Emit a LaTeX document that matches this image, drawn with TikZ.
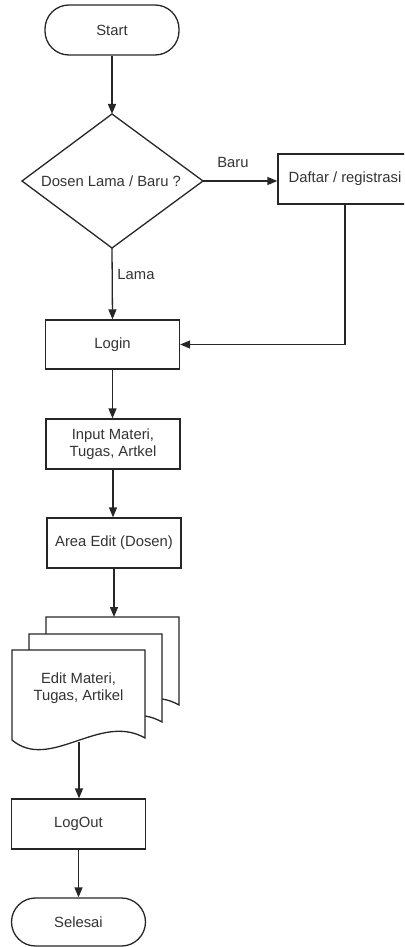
\documentclass[tikz,border=0pt]{standalone}
\usepackage{fontspec}
\setmainfont{Liberation Sans}
\usetikzlibrary{arrows.meta}
\definecolor{ln}{HTML}{262626}
\definecolor{txt}{HTML}{333333}
\begin{document}
\begin{tikzpicture}[x=1pt,y=-1pt,
  every node/.style={font=\fontsize{14.8}{17.5}\selectfont, text=txt},
  box/.style={draw=ln, line width=1.3pt, minimum width=134pt, minimum height=50pt,
              inner sep=0pt, align=center},
  term/.style={box, rounded corners=24pt},
  flow/.style={draw=ln, line width=1.3pt, -{Triangle[length=10pt,width=8pt]}},
  sheet/.pic={
    \filldraw[draw=ln, fill=white, line width=1.3pt, line join=miter]
      (0,0) -- (133,0) -- (133,88) .. controls (88,62) and (38,122) .. (0,90) -- cycle;
  }]
\useasboundingbox (0,0) rectangle (404,947);
\clip (0,0) rectangle (404,947);

% start terminator
\node[term] (start) at (112,30) {Start};

% decision diamond
\coordinate (dN) at (112,114);
\coordinate (dE) at (203,181);
\coordinate (dS) at (112,248);
\coordinate (dW) at (22,181);
\draw[draw=ln, line width=1.3pt, line join=miter] (dN) -- (dE) -- (dS) -- (dW) -- cycle;
\node (dec) at (111,181) {Dosen Lama / Baru ?};

% registration box (runs past the right edge)
\node[box] (daftar) at (345,179) {Daftar / registrasi};

% main column
\node[box, minimum height=49pt] (login) at (112.5,344.5) {Login};
\node[box] (input) at (113,444) {Input Materi,\\Tugas, Artkel};
\node[box] (area) at (114,543) {Area Edit (Dosen)};

% stacked documents
\pic at (46,617) {sheet};
\pic at (29,634) {sheet};
\pic at (12,650) {sheet};
\coordinate (doctop) at (112.5,617);
\coordinate (docbot) at (79,742);
\node (doc) at (78.5,688) [align=center] {Edit Materi,\\Tugas, Artikel};

\node[box] (logout) at (78.5,824) {LogOut};
\node[term, minimum height=48pt] (end) at (78.5,922) {Selesai};

% branch labels
\node (baru) at (233,162) {Baru};
\node (lama) at (136,274) {Lama};

% connectors
\draw[flow] (start.south) -- (dN);
\draw[flow] (dE) -- (dE -| daftar.west);
\draw[flow] (dS) -- (login.north);
\draw[flow] (daftar.south) |- (login.east);
\draw[flow] (login.south) -- (login.south |- input.north);
\draw[flow] (input.south) -- (input.south |- area.north);
\draw[flow] (area.south) -- (area.south |- doctop);
\draw[flow] (docbot) -- (docbot |- logout.north);
\draw[flow] (logout.south) -- (end.north);
\end{tikzpicture}
\end{document}
